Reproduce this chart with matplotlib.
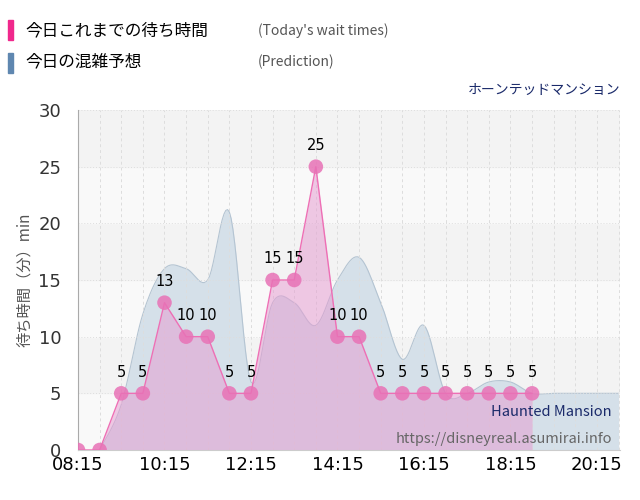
import matplotlib
matplotlib.use("Agg")
import matplotlib.pyplot as plt
import numpy as np

plt.rcParams["font.family"] = ["Noto Sans CJK JP"]

actual_times = ["08:15","08:45","09:15","09:45","10:15","10:45","11:15","11:45","12:15","12:45",
                "13:15","13:45","14:15","14:45","15:15","15:45","16:15","16:45","17:15","17:45","18:15","18:45"]
actual_vals = [0,0,5,5,13,10,10,5,5,15,15,25,10,10,5,5,5,5,5,5,5,5]

pred_times = ["08:45","09:15","09:45","10:15","10:45","11:15","11:45","12:15","12:45","13:15","13:45",
              "14:15","14:45","15:15","15:45","16:15","16:45","17:15","17:45","18:15","18:45",
              "19:15","19:45","20:15","20:45"]
pred_vals = [0,4,12,16,16,15,21,6,13,13,11,15,17,13,8,11,5,5,6,6,5,5,5,5,5]

xtick_labels = ["08:15","10:15","12:15","14:15","16:15","18:15","20:15"]
ytick_vals = [0,5,10,15,20,25,30]

def tm(s):
    h, m = s.split(":")
    return int(h)*60+int(m)

ax_x = np.array([tm(t) for t in actual_times])
px = np.array([tm(t) for t in pred_times])

def smooth(x, y, n=12):
    xs, ys = [], []
    P = np.column_stack([x, y]).astype(float)
    P = np.vstack([P[0], P, P[-1]])
    for i in range(1, len(P)-2):
        p0, p1, p2, p3 = P[i-1], P[i], P[i+1], P[i+2]
        for t in np.linspace(0, 1, n, endpoint=False):
            t2, t3 = t*t, t*t*t
            pt = 0.5*((2*p1) + (-p0+p2)*t + (2*p0-5*p1+4*p2-p3)*t2 + (-p0+3*p1-3*p2+p3)*t3)
            xs.append(pt[0]); ys.append(max(pt[1], 0))
    xs.append(P[-2][0]); ys.append(P[-2][1])
    return np.array(xs), np.array(ys)

fig = plt.figure(figsize=(6.4, 5), dpi=100)
ax = fig.add_axes([78/640, 50/500, (620-78)/640, 340/500])
xmin, xmax = tm("08:15"), tm("20:47")
ax.set_xlim(xmin, xmax)
ax.set_ylim(0, 30)
for i, y0 in enumerate(range(0, 30, 5)):
    ax.axhspan(y0, y0+5, color="#f9f9f9" if i % 2 == 0 else "#f3f3f3", zorder=0)

sx, sy = smooth(px, pred_vals)
ax.fill_between(sx, 0, sy, color="#d5e0e9", zorder=1, lw=0)
ax.plot(sx, sy, color="#b4c4d2", lw=0.8, zorder=1)

ax.fill_between(ax_x, 0, actual_vals, color="#e59fd2", alpha=0.55, zorder=2, lw=0)
ax.plot(ax_x, actual_vals, color="#ee6fb5", lw=1, zorder=3)
ax.scatter(ax_x, actual_vals, s=110, color="#e872b6", alpha=0.85, zorder=4, edgecolors="none")
for x, v in zip(ax_x[2:], actual_vals[2:]):
    ax.text(x, v+1.2, str(v), ha="center", va="bottom", fontsize=10.5, zorder=5, family="DejaVu Sans")

xt = [tm(t) for t in xtick_labels]
ax.set_xticks(xt)
ax.set_xticklabels(xtick_labels, fontsize=13, family="DejaVu Sans")
ax.set_xticks([xmin + 30*k for k in range(26)], minor=True)
ax.set_yticks(ytick_vals)
ax.set_yticklabels([str(v) for v in ytick_vals], fontsize=13, family="DejaVu Sans", color="#333333")
ax.grid(True, which="both", axis="x", color="#dddddd", ls=(0, (3, 3)), lw=0.7)
ax.grid(True, axis="y", color="#dddddd", ls=(0, (1, 2)), lw=0.7)
ax.tick_params(which="both", length=0)
ax.tick_params(axis="y", pad=12)
ax.tick_params(axis="x", pad=4)
for s in ["top", "right"]:
    ax.spines[s].set_visible(False)
ax.spines["left"].set_color("#aaaaaa")
ax.spines["bottom"].set_color("#cccccc")
ax.set_ylabel("待ち時間（分）min", fontsize=11, color="#555555", labelpad=4)

ax.text(0.985, 0.1, "Haunted Mansion", transform=ax.transAxes, ha="right", fontsize=10.5, color="#1a2a6a", zorder=6)
ax.text(0.985, 0.02, "https://disneyreal.asumirai.info", transform=ax.transAxes, ha="right", fontsize=10.5, color="#666666", zorder=6)

fig.patches.append(plt.Rectangle((8/640, 1-40/500), 5/640, 20/500, transform=fig.transFigure, color="#f0288c"))
fig.patches.append(plt.Rectangle((8/640, 1-73/500), 5/640, 20/500, transform=fig.transFigure, color="#5f87b0"))
fig.text(25/640, 1-31/500, "今日これまでの待ち時間", fontsize=12, va="center")
fig.text(25/640, 1-62/500, "今日の混雑予想", fontsize=12, va="center")
fig.text(258/640, 1-31/500, "(Today's wait times)", fontsize=10, va="center", color="#555555")
fig.text(258/640, 1-62/500, "(Prediction)", fontsize=10, va="center", color="#555555")
fig.text(620/640, 1-90/500, "ホーンテッドマンション", fontsize=10, va="center", ha="right", color="#1a2a6a")

fig.savefig("out.png", dpi=100)
